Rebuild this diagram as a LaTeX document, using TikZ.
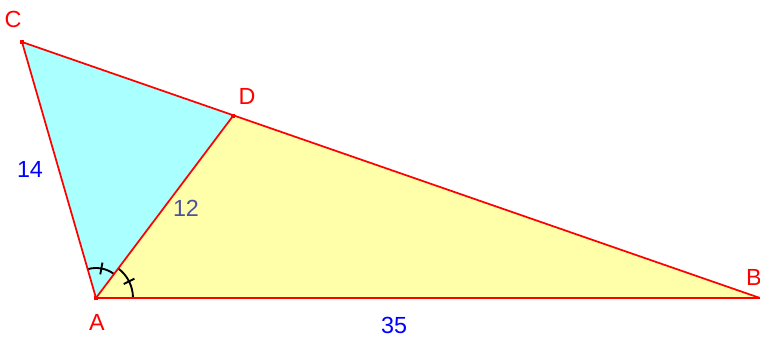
\documentclass[tikz,border=0pt]{standalone}
\usepackage{fontspec}
\setmainfont{Liberation Sans}
\usetikzlibrary{calc}
\definecolor{myred}{RGB}{255,0,0}
\definecolor{mycyan}{RGB}{170,255,255}
\definecolor{myyellow}{RGB}{255,255,170}
\definecolor{myblue}{RGB}{0,0,255}
\definecolor{myslate}{RGB}{80,80,160}
\begin{document}
\begin{tikzpicture}[x=0.75pt,y=-0.75pt,
  seg/.style={draw=myred,line width=1.3pt},
  pt/.style={fill=myred,minimum size=3.5pt,inner sep=0pt,rectangle},
  lbl/.style={text=myred,font=\fontsize{17.5}{17.5}\selectfont},
  num/.style={text=myblue,font=\fontsize{17.5}{17.5}\selectfont},
  arcm/.style={draw=black,line width=1.4pt}]
\useasboundingbox (0,0) rectangle (760,338);
\coordinate (A) at (96,298);
\coordinate (B) at (760,298);
\coordinate (C) at (22,42);
\coordinate (D) at (233,116);
\fill[mycyan] (A) -- (C) -- (D) -- cycle;
\fill[myyellow] (A) -- (D) -- (B) -- cycle;
% angle arcs
\draw[arcm] ($(A)+(-106.1:30)$) arc[start angle=-106.1,end angle=-53.3,radius=30];
\draw[arcm] ($(A)+(-53.3:37)$) arc[start angle=-53.3,end angle=0,radius=37];
\draw[arcm] ($(A)+(-79.7:24)$) -- ($(A)+(-79.7:36)$);
\draw[arcm] ($(A)+(-26.7:31)$) -- ($(A)+(-26.7:43)$);
\draw[seg] (A) -- (C) -- (B) -- cycle;
\draw[seg] (A) -- (D);
\node[pt] (pA) at (A) {};
\node[pt] (pC) at (C) {};
\node[pt] (pD) at (D) {};
\node[lbl] (lA) at (97,322) {A};
\node[lbl] (lB) at (754,277) {B};
\node[lbl] (lC) at (13,19) {C};
\node[lbl] (lD) at (247,96) {D};
\node[num] (l14) at (30,169) {14};
\node[num] (l35) at (394,325) {35};
\node[text=myslate,font=\fontsize{17.5}{17.5}\selectfont] (l12) at (186,208) {12};
\end{tikzpicture}
\end{document}
